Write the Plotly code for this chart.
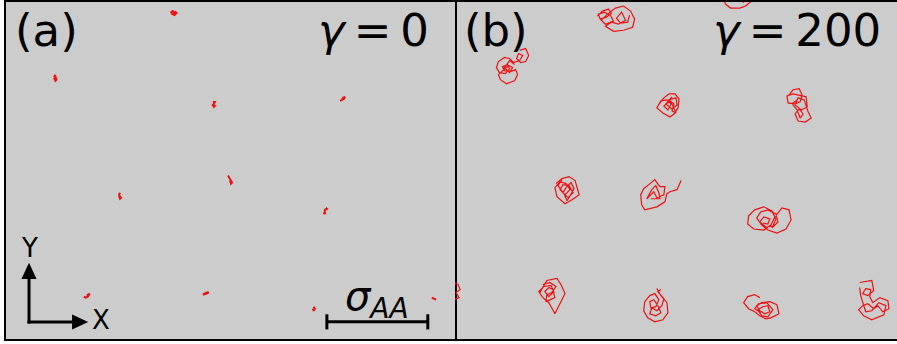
import plotly.graph_objects as go

# Box geometry in units of sigma_AA
BOX_H = 3.34          # visible height of both panels
BOX_W_A = 4.45        # visible width, panel (a)
BOX_W_B = 4.38        # visible width, panel (b)
STEP = 0.01           # displacement unit of the path lists (sigma_AA)

# ---- gamma = 0 : particle centres (sigma_AA) and trajectory displacements (0.01 sigma_AA)
gamma0_x = [1.66, 0.49, 2.06, 3.34, 2.22, 1.13, 3.16, 0.80, 1.98, 3.05, 4.24]
gamma0_y = [3.23, 2.59, 2.33, 2.38, 1.58, 1.42, 1.27, 0.43, 0.45, 0.30, 0.40]
gamma0_paths = [
    [(-3, 0), (-1, 2), (1, 1), (3, 0), (1, -2), (-1, -1), (2, 1), (3, -1)],
    [(0, 3), (-1, 1), (1, 0), (-1, -1), (0, -3), (1, -2), (0, 1)],
    [(-1, 2), (1, 2), (0, 0), (-1, -1), (1, -2), (0, -3), (-1, -1)],
    [(-3, -2), (-1, -1), (0, 1), (2, 2), (1, 0), (-1, -1)],
    [(-2, 4), (-1, 2), (0, 1), (1, -1), (2, -3), (1, -4), (0, -1)],
    [(0, 3), (-1, 1), (0, -1), (1, -2), (0, -3), (-1, 0)],
    [(1, 3), (2, 2), (0, 1), (0, -1), (-1, -3), (1, -2)],
    [(-3, -1), (-1, -2), (1, -1), (2, 1), (3, 2), (0, 0)],
    [(-3, -1), (-1, 0), (1, 1), (3, 1), (1, 0), (-2, -1)],
    [(0, 2), (1, 0), (0, -2), (-1, 0)],
    [(-2, 1), (0, 0), (2, -1), (1, 0)],
]

# ---- gamma = 200 : particle centres (sigma_AA) and trajectory displacements (0.01 sigma_AA)
gamma200_x = [1.58, 2.79, 0.52, 2.12, 3.40, 1.10, 2.03, 3.11, 0.94, 1.99, 3.04, 4.15, -0.04]
gamma200_y = [3.17, 3.33, 2.69, 2.32, 2.31, 1.48, 1.43, 1.19, 0.47, 0.34, 0.32, 0.39, 0.48]
gamma200_paths = [
    [(-17, 3), (-12, 8), (-6, 10), (-3, 6), (-8, 2), (-14, 0), (-16, 5), (-10, 7), (-4, 4),
     (-1, -2), (-9, -5), (-13, -1), (-7, 5), (1, 11), (9, 13), (16, 8), (20, 0), (18, -8),
     (9, -11), (-1, -12), (-9, -7), (-3, -3), (4, -5), (11, -1), (7, 7), (2, 1), (6, -4),
     (13, -3), (15, 4)],
    [(-13, 5), (-11, -1), (-6, -5), (3, -5), (9, -3), (15, 2), (13, 11), (3, 17), (-7, 13),
     (-2, 7), (5, 5), (8, 12), (1, 15), (-9, 8), (-5, 4), (7, 1), (12, 7)],
    [(12, 17), (18, 19), (21, 12), (18, 6), (13, 5), (9, 9), (11, 14), (15, 12), (12, 7),
     (6, 5), (2, 9), (-3, 10), (-9, 6), (-11, 0), (-8, -5), (-2, -6), (2, -1), (0, 3),
     (-5, 1), (-3, -3), (3, -4), (8, -2), (10, -7), (7, -13), (-1, -16), (-7, -12),
     (-9, -7), (-4, -2), (1, 2), (5, 0), (2, -5), (-3, 0), (2, 7), (7, 3)],
    [(-11, -1), (-6, 6), (0, 11), (6, 11), (10, 6), (9, -3), (5, -9), (1, -12), (-6, -8),
     (-12, -3), (-8, 4), (-2, 5), (2, 1), (-1, -5), (-5, -1), (1, 4), (5, 1), (3, -6),
     (7, -8), (4, -1), (0, 5), (7, 7), (8, 0), (3, -4), (-3, 1), (3, 8)],
    [(-9, 11), (-5, 16), (1, 17), (4, 11), (2, 4), (-3, 2), (-10, 3), (-11, 10), (-5, 12),
     (8, 9), (9, -1), (3, -4), (-3, 1), (0, 8), (6, 6), (10, -6), (13, -12), (7, -16),
     (0, -15), (-3, -8), (1, -3), (5, -8), (2, -12), (-1, -4), (-6, 2), (-1, 6)],
    [(-10, 6), (-4, 11), (3, 13), (9, 9), (13, -5), (6, -10), (-1, -14), (-9, -7), (-11, 2),
     (-6, 8), (0, 6), (4, 0), (-1, -5), (-6, 0), (-3, 5), (3, 4), (7, -3), (2, -8), (-3, -3),
     (0, 2), (5, 7), (8, 1), (4, -6), (1, -11), (-2, -4), (-8, 4), (-4, 10)],
    [(21, 14), (17, 5), (10, 3), (7, 1), (5, -7), (-3, -12), (-15, -15), (-18, -10),
     (-19, 0), (-16, 6), (-11, 10), (-5, 15), (0, 8), (5, 8), (4, 0), (-3, -3), (-6, 3),
     (-11, -2), (-13, -4), (-8, 5), (-4, 9), (-1, 2), (0, -4), (-9, -4)],
    [(-6, -4), (-1, -5), (1, 0), (-5, 2), (-9, -3), (-3, -8), (4, -7), (7, 0), (3, 8),
     (-5, 12), (-14, 9), (-20, 3), (-21, -5), (-15, -10), (-5, -11), (2, -6), (6, 2),
     (13, 11), (20, 9), (22, -1), (17, -10), (8, -14), (-1, -11), (-7, -6), (-12, 1),
     (-8, 7), (-1, 9), (7, 5), (9, -3), (3, -9)],
    [(-10, -1), (-3, 11), (7, 13), (11, 7), (15, -2), (10, -12), (5, -22), (-1, -11),
     (-7, -6), (-11, 0), (-6, 5), (1, 6), (4, 0), (-1, -5), (-5, 0), (-1, 4), (3, 2),
     (5, -6), (1, -8), (-4, -10), (-3, -3), (2, -1), (6, 5), (0, 9), (-7, 7)],
    [(1, 16), (5, 9), (11, 2), (12, -8), (7, -15), (-1, -17), (-8, -13), (-12, -6),
     (-11, 3), (-6, 9), (-1, 11), (3, 5), (0, -2), (-5, -3), (-6, 3), (-2, 5), (2, -1),
     (5, -8), (0, -11), (-6, -9), (-4, -3), (1, -6), (6, -1), (8, 6), (2, 13), (5, 15)],
    [(-2, 9), (-7, 12), (-14, 10), (-18, 4), (-13, -2), (-7, -5), (-2, -9), (4, -12),
     (9, -11), (17, -7), (15, 2), (8, 5), (0, 4), (-5, 1), (-2, -4), (3, -7), (8, -5),
     (6, 1), (1, 0), (-4, -3), (0, -9), (6, -10), (11, -3), (5, 4), (-3, 3), (-7, -2),
     (-1, -6)],
    [(-14, 17), (-2, 19), (0, 9), (-6, 4), (-11, 6), (-8, 11), (-3, 10), (-4, 3), (-1, -3),
     (6, 2), (14, -1), (15, -9), (9, -12), (4, -6), (0, -9), (-6, -4), (-11, -6),
     (-15, -10), (-10, -16), (-2, -20), (10, -15), (12, -6), (5, -3), (-2, -11),
     (-8, -12), (-11, -2), (-13, 4), (-14, 12)],
    [(1, 8), (7, 6), (9, 1), (5, -2), (8, -7), (3, -9), (-2, -4), (-5, 3), (1, 8)],
]

SCALE_BAR = 1.0       # length of the scale bar, sigma_AA

RED = "#ee1111"
GREY = "#cccccc"
FONT = "DejaVu Sans"
THIN = "\u2009"       # thin space around the relation sign


def build(cx, cy, paths):
    xs, ys = [], []
    for x0, y0, path in zip(cx, cy, paths):
        for dx, dy in path:
            xs.append(x0 + dx * STEP)
            ys.append(y0 + dy * STEP)
        xs.append(None)
        ys.append(None)
    return xs, ys


fig = go.Figure()

xa, ya = build(gamma0_x, gamma0_y, gamma0_paths)
fig.add_trace(go.Scatter(x=xa, y=ya, mode="lines", xaxis="x", yaxis="y",
                         line=dict(color=RED, width=2.0), hoverinfo="skip",
                         showlegend=False))
xb, yb = build(gamma200_x, gamma200_y, gamma200_paths)
fig.add_trace(go.Scatter(x=xb, y=yb, mode="lines", xaxis="x2", yaxis="y2",
                         line=dict(color=RED, width=1.2), hoverinfo="skip",
                         showlegend=False))

split = BOX_W_A / (BOX_W_A + BOX_W_B)
common = dict(showgrid=False, zeroline=False, showticklabels=False, ticks="",
              showline=True, linecolor="black", linewidth=2)

fig.update_layout(
    width=897, height=344, autosize=False,
    margin=dict(l=6, r=0, t=2, b=5),
    paper_bgcolor="white", plot_bgcolor=GREY,
    font=dict(family=FONT, color="black"),
    xaxis=dict(domain=[0, split], range=[0, BOX_W_A], mirror=True, **common),
    yaxis=dict(domain=[0, 1], range=[0, BOX_H], mirror=True, **common),
    xaxis2=dict(domain=[split, 1], range=[0, BOX_W_B], mirror=True, anchor="y2", **common),
    yaxis2=dict(domain=[0, 1], range=[0, BOX_H], anchor="x2",
                **{**common, "showline": False}),
)

# Panel labels
label = dict(showarrow=False, yanchor="middle")
big = dict(size=45)
ann = [
    dict(text="(a)", xref="x domain", yref="y domain", x=0.016, y=0.914,
         xanchor="left", font=big, **label),
    dict(text=f"<i>γ</i>{THIN}={THIN}0", xref="x domain", yref="y domain", x=0.946, y=0.914,
         xanchor="right", font=big, **label),
    dict(text="(b)", xref="x2 domain", yref="y2 domain", x=0.016, y=0.914,
         xanchor="left", font=big, **label),
    dict(text=f"<i>γ</i>{THIN}={THIN}200", xref="x2 domain", yref="y2 domain", x=0.968,
         y=0.914, xanchor="right", font=big, **label),
    dict(text="Y", xref="x domain", yref="y domain", x=0.052, y=0.270,
         xanchor="center", font=dict(size=26), **label),
    dict(text="X", xref="x domain", yref="y domain", x=0.2105, y=0.055,
         xanchor="center", font=dict(size=26), **label),
]

# Scale bar: one sigma_AA long, drawn in data units
bar_x0, bar_y = 3.18, 0.17
bar_x1 = bar_x0 + SCALE_BAR
ann.append(dict(text="<i>σ</i><sub><i>AA</i></sub>", xref="x", yref="y",
                x=(bar_x0 + bar_x1) / 2, y=0.40, xanchor="center",
                font=dict(size=40), **label))
fig.update_layout(annotations=ann)

shapes = [
    dict(type="line", xref="x", yref="y", x0=bar_x0, x1=bar_x1, y0=bar_y, y1=bar_y,
         line=dict(color="black", width=3)),
    dict(type="line", xref="x", yref="y", x0=bar_x0, x1=bar_x0, y0=bar_y - 0.075,
         y1=bar_y + 0.075, line=dict(color="black", width=3)),
    dict(type="line", xref="x", yref="y", x0=bar_x1, x1=bar_x1, y0=bar_y - 0.075,
         y1=bar_y + 0.075, line=dict(color="black", width=3)),
]

# X / Y direction arrows
ox, oy = 0.228, 0.168
head_len, head_half = 0.16, 0.075
tip_y, tip_x = 0.755, 0.815
shapes += [
    dict(type="line", xref="x", yref="y", x0=ox, x1=ox, y0=oy - 0.015,
         y1=tip_y - head_len, line=dict(color="black", width=3)),
    dict(type="line", xref="x", yref="y", x0=ox - 0.015, x1=tip_x - head_len, y0=oy,
         y1=oy, line=dict(color="black", width=3)),
    dict(type="path", xref="x", yref="y", fillcolor="black", line=dict(width=0),
         path=f"M {ox - head_half} {tip_y - head_len} L {ox + head_half} {tip_y - head_len} "
              f"L {ox} {tip_y} Z"),
    dict(type="path", xref="x", yref="y", fillcolor="black", line=dict(width=0),
         path=f"M {tip_x - head_len} {oy - head_half} L {tip_x - head_len} {oy + head_half} "
              f"L {tip_x} {oy} Z"),
]
fig.update_layout(shapes=shapes)

fig.write_html("out.html")
